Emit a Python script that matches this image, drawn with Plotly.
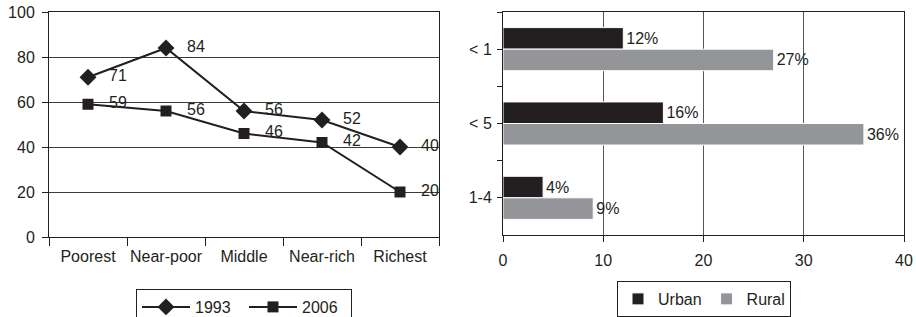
import plotly.graph_objects as go

# ---- data ----
quintiles = ["Poorest", "Near-poor", "Middle", "Near-rich", "Richest"]
y1993 = [71, 84, 56, 52, 40]
y2006 = [59, 56, 46, 42, 20]

age_groups = ["< 1", "< 5", "1-4"]
urban = [12, 16, 4]
rural = [27, 36, 9]

INK = "#231f20"
FONT = "Liberation Sans, Arial, sans-serif"
FS = 16
W, H = 916, 317

fig = go.Figure()

# ---- left: line chart ----
fig.add_trace(go.Scatter(
    x=quintiles, y=y1993, name="1993", mode="lines+markers",
    line=dict(color=INK, width=2),
    marker=dict(symbol="diamond", size=13, color=INK),
    xaxis="x", yaxis="y", legend="legend"))
fig.add_trace(go.Scatter(
    x=quintiles, y=y2006, name="2006", mode="lines+markers",
    line=dict(color=INK, width=2),
    marker=dict(symbol="square", size=11, color=INK),
    xaxis="x", yaxis="y", legend="legend"))

annotations = []
for series in (y1993, y2006):
    for q, v in zip(quintiles, series):
        annotations.append(dict(
            x=q, y=v, xref="x", yref="y", text=str(v), showarrow=False,
            xanchor="left", yanchor="middle", xshift=19, yshift=2,
            font=dict(family=FONT, size=FS, color=INK)))

# ---- right: horizontal bars ----
fig.add_trace(go.Bar(
    y=age_groups, x=urban, name="Urban", orientation="h",
    marker=dict(color=INK, line=dict(color="white", width=1)),
    text=[f"{v}%" for v in urban], textposition="outside",
    textfont=dict(family=FONT, size=FS, color=INK), constraintext="none",
    cliponaxis=False, xaxis="x2", yaxis="y2", legend="legend2"))
fig.add_trace(go.Bar(
    y=age_groups, x=rural, name="Rural", orientation="h",
    marker=dict(color="#939598", line=dict(color="white", width=1)),
    text=[f"{v}%" for v in rural], textposition="outside",
    textfont=dict(family=FONT, size=FS, color=INK), constraintext="none",
    cliponaxis=False, xaxis="x2", yaxis="y2", legend="legend2"))
# invisible helper trace so the overlay axis can draw boundary ticks
fig.add_trace(go.Scatter(
    y=age_groups, x=[0] * len(age_groups), mode="markers",
    marker=dict(opacity=0), showlegend=False, hoverinfo="skip",
    xaxis="x2", yaxis="y3"))

tickfont = dict(family=FONT, size=FS, color=INK)
ldom = [49 / W, 439 / W]
rdom = [503 / W, 904 / W]
ncat = len(quintiles)
nage = len(age_groups)

fig.update_layout(
    width=W, height=H,
    margin=dict(l=0, r=0, t=12, b=80, autoexpand=False),
    paper_bgcolor="white", plot_bgcolor="white",
    font=dict(family=FONT, size=FS, color=INK),
    barmode="group", bargap=0.42, bargroupgap=0,
    xaxis=dict(domain=ldom, anchor="y", type="category", tickson="boundaries",
               range=[-0.5, ncat - 0.5],
               ticks="outside", ticklen=8, tickcolor=INK, showline=True,
               linecolor=INK, linewidth=1, mirror=True, showgrid=False,
               tickfont=tickfont, ticklabelstandoff=5, tickangle=0,
               automargin=False),
    yaxis=dict(domain=[0, 1], anchor="x", range=[0, 100], dtick=20,
               ticks="outside", ticklen=6, tickcolor=INK, showline=True,
               linecolor=INK, linewidth=1, mirror=True, showgrid=True,
               gridcolor="#3a3a3a", gridwidth=1, zeroline=False,
               tickfont=tickfont, ticklabelstandoff=4, automargin=False),
    xaxis2=dict(domain=rdom, anchor="y2", range=[0, 40], dtick=10,
                ticks="outside", ticklen=6, tickcolor=INK, showline=True,
                linecolor=INK, linewidth=1, mirror=True, showgrid=True,
                gridcolor="#555555", gridwidth=1, zeroline=False,
                tickfont=tickfont, ticklabelstandoff=5, tickangle=0,
                automargin=False),
    yaxis2=dict(domain=[2 / 225, 1], anchor="x2", type="category",
                categoryorder="array", categoryarray=age_groups,
                range=[nage - 0.5, -0.5], ticks="outside", ticklen=5,
                tickcolor=INK, showline=True, linecolor=INK, linewidth=1,
                mirror=True, showgrid=False, tickfont=tickfont,
                ticklabelstandoff=2, automargin=False),
    yaxis3=dict(domain=[2 / 225, 1], anchor="x2", overlaying="y2",
                type="category", categoryorder="array",
                categoryarray=age_groups, range=[nage - 0.5, -0.5],
                tickson="boundaries", ticks="outside", ticklen=5,
                tickcolor=INK, showticklabels=False, showline=False,
                showgrid=False, automargin=False),
    legend=dict(orientation="h", x=136 / W, y=-52 / 225, xanchor="left",
                yanchor="top", bordercolor=INK, borderwidth=1,
                bgcolor="white", itemwidth=48, entrywidth=44,
                font=dict(family=FONT, size=FS, color=INK)),
    legend2=dict(orientation="h", x=617 / W, y=-44 / 225, xanchor="left",
                 yanchor="top", bordercolor=INK, borderwidth=1,
                 bgcolor="white", itemwidth=30,
                 font=dict(family=FONT, size=FS, color=INK)),
    annotations=annotations,
)

fig.write_html("out.html", config={"displayModeBar": False},
               post_script="document.body.style.margin='0';"
                           "document.body.style.overflow='hidden';")
